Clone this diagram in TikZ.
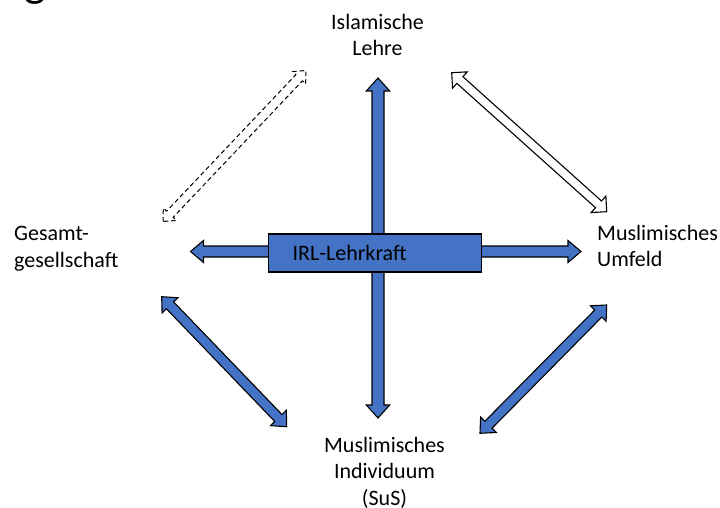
\documentclass[tikz,border=0pt]{standalone}
\usepackage{fontspec}
\setmainfont{Carlito}
\usetikzlibrary{calc}
\definecolor{officeblue}{HTML}{4472C4}
% #1 style, #2 shaft half width, #3 head half width, #4 head length, #5 from, #6 to
\newcommand\blockarrow[6]{%
  \draw[#1] (#5)
    -- ($(#5)!#4!(#6)!#3!90:(#6)$)
    -- ($(#5)!#4!(#6)!#2!90:(#6)$)
    -- ($(#6)!#4!(#5)!#2!-90:(#5)$)
    -- ($(#6)!#4!(#5)!#3!-90:(#5)$)
    -- (#6)
    -- ($(#6)!#4!(#5)!#3!90:(#5)$)
    -- ($(#6)!#4!(#5)!#2!90:(#5)$)
    -- ($(#5)!#4!(#6)!#2!-90:(#6)$)
    -- ($(#5)!#4!(#6)!#3!-90:(#6)$)
    -- cycle;}
\tikzset{
  bluearrow/.style={fill=officeblue, draw=black, line width=1.1pt, line join=miter},
  whitearrow/.style={fill=white, draw=black, line width=1.1pt, line join=miter},
  dasharrow/.style={draw=black, line width=1pt, dash pattern=on 4.5pt off 3pt},
  label/.style={inner sep=0pt, font=\fontsize{22pt}{26.5pt}\selectfont},
}
\begin{document}
\begin{tikzpicture}[x=1pt, y=-1pt]
\fill[white] (0,0) rectangle (720,508);
\useasboundingbox (0,0) rectangle (720,508);

% cut-off title letter
\node[inner sep=0pt, anchor=base west, font=\fontsize{46pt}{50pt}\selectfont] (title) at (24,-3) {g};

% labels (base anchor = baseline of the last line)
\node[label, align=center, anchor=base] (lehre) at (377.5,55.8) {Islamische\\Lehre};
\node[label, align=left, anchor=base west] (gesamt) at (14,267) {Gesamt-\\gesellschaft};
\node[label, align=left, anchor=base west] (umfeld) at (597,266.7) {Muslimisches\\Umfeld};
\node[label, align=center, anchor=base] (indiv) at (384.5,505) {Muslimisches\\Individuum\\(SuS)};

% arrow end points
\coordinate (vT) at (378,78);
\coordinate (vB) at (378,418);
\coordinate (hL) at (190.5,251.5);
\coordinate (hR) at (581,251.5);
\coordinate (dA) at (163,221.5);
\coordinate (dB) at (306,70.5);
\coordinate (wA) at (451.7,72.7);
\coordinate (wB) at (606.7,211.7);
\coordinate (lA) at (161.7,296.7);
\coordinate (lB) at (286.7,426.7);
\coordinate (rA) at (606.7,305);
\coordinate (rB) at (480,433.3);

\blockarrow{bluearrow}{6pt}{11.7pt}{13pt}{vT}{vB}
\blockarrow{bluearrow}{5.5pt}{11pt}{13pt}{hL}{hR}
\blockarrow{dasharrow}{4.5pt}{9pt}{10pt}{dA}{dB}
\blockarrow{whitearrow}{4.5pt}{11pt}{11pt}{wA}{wB}
\blockarrow{bluearrow}{5pt}{11pt}{12pt}{lA}{lB}
\blockarrow{bluearrow}{5pt}{11pt}{12pt}{rA}{rB}

% central box
\node[draw=black, line width=1.2pt, fill=officeblue, anchor=west,
      minimum height=38pt, text width=165pt, inner xsep=24pt, inner ysep=0pt,
      align=left, font=\fontsize{22pt}{26.5pt}\selectfont] (box) at (268,253) {IRL-Lehrkraft};
\end{tikzpicture}
\end{document}
